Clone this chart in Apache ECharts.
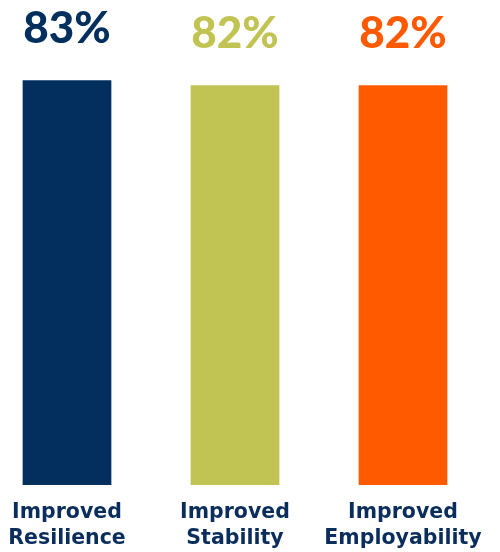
<!DOCTYPE html>
<html><head><meta charset="utf-8">
<script src="https://cdn.jsdelivr.net/npm/echarts@6/dist/echarts.min.js"></script>
<style>html,body{margin:0;padding:0;background:#fff;overflow:hidden;width:500px;height:552px}
#c{position:absolute;left:-17px;top:0;width:504px;height:552px}</style>
</head><body><div id="c"></div>
<script>
const categories = ['Improved\nResilience', 'Improved\nStability', 'Improved\nEmployability'];
const values = [83, 82, 82];
const colors = ['#022f5e', '#c1c453', '#ff5a00'];

const chart = echarts.init(document.getElementById('c'), null, {renderer: 'canvas'});
chart.setOption({
  animation: false,
  grid: {left: 0, right: 0, top: 0, bottom: 66.7, containLabel: false},
  xAxis: {
    type: 'category', data: categories,
    axisLine: {show: false}, axisTick: {show: false},
    axisLabel: {
      interval: 0, margin: 15, color: '#0a2d5c', fontFamily: 'DejaVu Sans',
      fontWeight: 'bold', fontSize: 20.5, lineHeight: 26
    }
  },
  yAxis: {type: 'value', min: 0, max: 99.46, show: false, splitLine: {show: false}},
  series: [{
    type: 'bar', barWidth: 88.7,
    data: values.map((v, i) => ({value: v, itemStyle: {color: colors[i]},
      label: {color: colors[i]}})),
    label: {
      show: true, position: 'top', distance: 29,
      formatter: '{c}%', fontFamily: 'Lato', fontWeight: 900, fontSize: 44
    }
  }]
});
</script></body></html>
